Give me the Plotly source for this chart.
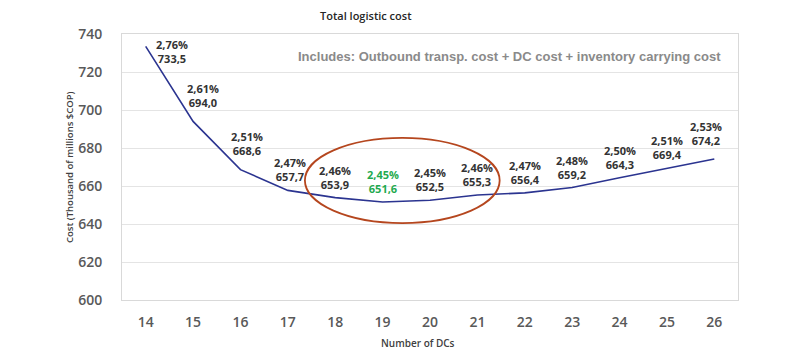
import plotly.graph_objects as go

n_dcs = [14, 15, 16, 17, 18, 19, 20, 21, 22, 23, 24, 25, 26]
cost = [733.5, 694.0, 668.6, 657.7, 653.9, 651.6, 652.5, 655.3, 656.4, 659.2, 664.3, 669.4, 674.2]
pct_labels = ["2,76%", "2,61%", "2,51%", "2,47%", "2,46%", "2,45%", "2,45%", "2,46%",
              "2,47%", "2,48%", "2,50%", "2,51%", "2,53%"]
cost_labels = ["733,5", "694,0", "668,6", "657,7", "653,9", "651,6", "652,5", "655,3",
               "656,4", "659,2", "664,3", "669,4", "674,2"]
y_ticks = [600, 620, 640, 660, 680, 700, 720, 740]
best_n = 19

# label offsets (styling)
x_shifts = [26, 10, 7, 2, 0, 0, 0, 0, 0, 0, 0, 0, -8]
y_shifts = [-5, 9, 10, 4, 4, 4, 4, 4, 4, 4, 4, 4, 9]

FONT = "Open Sans"
W, H = 800, 350
ml, mr, mt, mb = 122, 62, 34, 50
pw, ph = W - ml - mr, H - mt - mb

fig = go.Figure()
fig.add_trace(go.Scatter(
    x=n_dcs, y=cost, mode="lines",
    line=dict(color="#2B3490", width=1.6),
    hoverinfo="skip", showlegend=False,
))

annotations = []
for i, (n, c) in enumerate(zip(n_dcs, cost)):
    color = "#1FAA4F" if n == best_n else "#333333"
    annotations.append(dict(
        x=n, y=c, xref="x", yref="y",
        text=f"{pct_labels[i]}<br>{cost_labels[i]}",
        showarrow=False,
        xanchor="center",
        yanchor="middle" if i == 0 else "bottom",
        xshift=x_shifts[i], yshift=y_shifts[i],
        font=dict(family=FONT, size=11, color=color, weight=700),
        align="center",
    ))

annotations.append(dict(
    x=(723 - ml) / pw, y=1 - (57 - mt) / ph, xref="paper", yref="paper", showarrow=False,
    text="Includes: Outbound transp. cost + DC cost + inventory carrying cost",
    font=dict(family="Liberation Sans", size=13, color="#8A8A8A", weight=600),
    xanchor="right", yanchor="middle",
))
annotations.append(dict(
    x=(366 - ml) / pw, y=1 - (15 - mt) / ph, xref="paper", yref="paper",
    showarrow=False, text="Total logistic cost",
    font=dict(family=FONT, size=11, color="#262626", weight=600),
    xanchor="center", yanchor="middle",
))
annotations.append(dict(
    x=(418 - ml) / pw, y=1 - (343 - mt) / ph, xref="paper", yref="paper",
    showarrow=False, text="Number of DCs",
    font=dict(family=FONT, size=10, color="#404040", weight=600),
    xanchor="center", yanchor="middle",
))
annotations.append(dict(
    x=(69 - ml) / pw, y=0.5, xref="paper", yref="paper",
    showarrow=False, text="Cost (Thousand of millions $COP)", textangle=-90,
    font=dict(family=FONT, size=9.5, color="#404040", weight=600),
    xanchor="center", yanchor="middle",
))

fig.add_shape(type="circle", xref="x", yref="y",
              x0=17.36, x1=21.47, y0=640.5, y1=685.3,
              line=dict(color="#B5461E", width=1.8))

fig.update_layout(
    width=W, height=H,
    margin=dict(l=ml, r=mr, t=mt, b=mb),
    paper_bgcolor="white", plot_bgcolor="white",
    annotations=annotations,
    showlegend=False,
)
fig.update_xaxes(
    range=[13.5, 26.5], tickmode="array", tickvals=n_dcs,
    ticktext=[str(v) for v in n_dcs],
    showgrid=False, zeroline=False,
    showline=True, linecolor="#D9D9D9", linewidth=1, mirror=True,
    ticks="", ticklabelstandoff=9,
    tickfont=dict(family=FONT, size=14, color="#595959", weight=600),
)
fig.update_yaxes(
    range=[600, 740], tickmode="array", tickvals=y_ticks,
    showgrid=True, gridcolor="#E4E4E4", gridwidth=1, zeroline=False,
    showline=True, linecolor="#D9D9D9", linewidth=1, mirror=True,
    ticks="", ticklabelstandoff=16,
    tickfont=dict(family=FONT, size=14, color="#595959", weight=600),
)

fig.write_html("out.html")
